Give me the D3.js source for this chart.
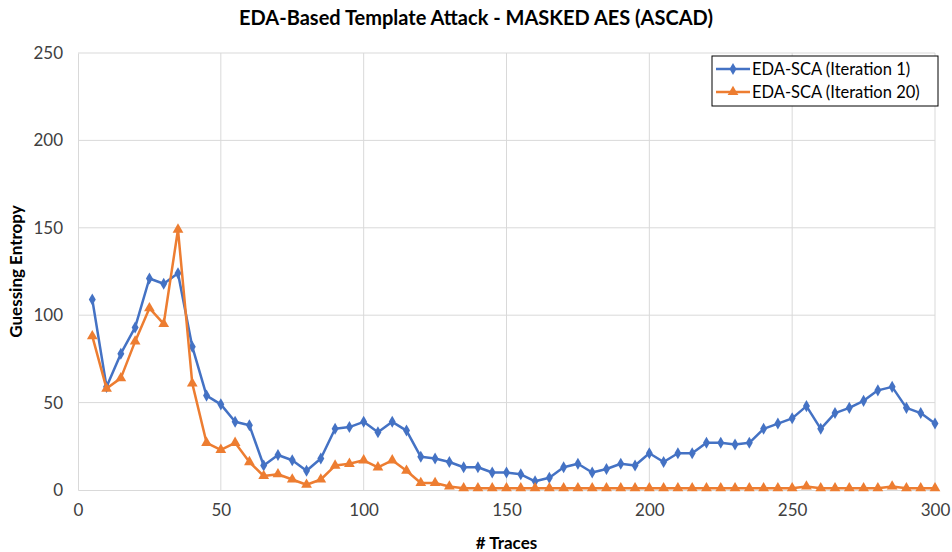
<!DOCTYPE html>
<html>
<head>
<meta charset="utf-8">
<script src="https://cdn.jsdelivr.net/npm/d3@7"></script>
<style>
  body { margin: 0; background: #fff; }
  text { font-family: Lato, "Open Sans", sans-serif; }
</style>
</head>
<body>
<svg id="chart" width="952" height="552"></svg>
<script>
// x values: number of traces
const traces = d3.range(5, 301, 5);

const iter1 = [109, 59, 78, 93, 121, 118, 124, 82, 54, 49,
  39, 37, 14, 20, 17, 11, 18, 35, 36, 39,
  33, 39, 34, 19, 18, 16, 13, 13, 10, 10,
  9, 5, 7, 13, 15, 10, 12, 15, 14, 21,
  16, 21, 21, 27, 27, 26, 27, 35, 38, 41,
  48, 35, 44, 47, 51, 57, 59, 47, 44, 38];

const iter20 = [88, 58, 64, 85, 104, 95, 149, 61, 27, 23,
  27, 16, 8, 9, 6, 3, 6, 14, 15, 17,
  13, 17, 11, 4, 4, 2, 1, 1, 1, 1,
  1, 1, 1, 1, 1, 1, 1, 1, 1, 1,
  1, 1, 1, 1, 1, 1, 1, 1, 1, 1,
  2, 1, 1, 1, 1, 1, 2, 1, 1, 1];

const seriesNames = ['EDA-SCA (Iteration 1)', 'EDA-SCA (Iteration 20)'];
const seriesColors = ['#4472C4', '#ED7D31'];
const xTicks = [0, 50, 100, 150, 200, 250, 300];
const yTicks = [0, 50, 100, 150, 200, 250];

const svg = d3.select('#chart');
const margin = { left: 78, right: 17, top: 53, bottom: 62 };
const W = 952, H = 552;

const x = d3.scaleLinear().domain([0, 300]).range([margin.left, W - margin.right]);
const y = d3.scaleLinear().domain([0, 250]).range([H - margin.bottom, margin.top]);

// gridlines
svg.append('g')
  .selectAll('line.hg')
  .data(yTicks.slice(1))
  .join('line')
  .attr('x1', x(0)).attr('x2', x(300))
  .attr('y1', d => y(d)).attr('y2', d => y(d))
  .attr('stroke', '#d9d9d9').attr('stroke-width', 1);

svg.append('g')
  .selectAll('line.vg')
  .data(xTicks.slice(1))
  .join('line')
  .attr('y1', y(0)).attr('y2', y(250))
  .attr('x1', d => x(d)).attr('x2', d => x(d))
  .attr('stroke', '#d9d9d9').attr('stroke-width', 1);

// axes
const xAxis = svg.append('g')
  .attr('transform', `translate(0,${y(0)})`)
  .call(d3.axisBottom(x).tickValues(xTicks).tickSize(0).tickPadding(14));
const yAxis = svg.append('g')
  .attr('transform', `translate(${x(0)},0)`)
  .call(d3.axisLeft(y).tickValues(yTicks).tickSize(0).tickPadding(15));

[xAxis, yAxis].forEach(a => {
  a.select('.domain').attr('stroke', '#d9d9d9');
  a.selectAll('text')
    .attr('fill', '#404040')
    .style('font-size', '17px')
    .style('font-family', 'Lato, "Open Sans", sans-serif');
});

// lines & markers
const line = d3.line().x((d, i) => x(traces[i])).y(d => y(d));
const data = [iter1, iter20];
const symbols = [d3.symbolDiamond, d3.symbolTriangle];
const sizes = [42, 50];

data.forEach((vals, k) => {
  svg.append('path')
    .datum(vals)
    .attr('fill', 'none')
    .attr('stroke', seriesColors[k])
    .attr('stroke-width', 2.5)
    .attr('stroke-linejoin', 'round')
    .attr('d', line);

  svg.append('g')
    .selectAll('path')
    .data(vals)
    .join('path')
    .attr('transform', (d, i) => `translate(${x(traces[i])},${y(d)})`)
    .attr('d', d3.symbol().type(symbols[k]).size(sizes[k]))
    .attr('fill', seriesColors[k]);
});

// title
svg.append('text')
  .attr('x', 476).attr('y', 25)
  .attr('text-anchor', 'middle')
  .style('font-size', '20px').style('font-weight', 'bold')
  .attr('fill', '#000')
  .text('EDA-Based Template Attack - MASKED AES (ASCAD)');

// axis titles
svg.append('text')
  .attr('x', (x(0) + x(300)) / 2).attr('y', 549)
  .attr('text-anchor', 'middle')
  .style('font-size', '17px').style('font-weight', 'bold')
  .text('# Traces');

svg.append('text')
  .attr('transform', `translate(22,${(y(0) + y(250)) / 2}) rotate(-90)`)
  .attr('text-anchor', 'middle')
  .style('font-size', '17px').style('font-weight', 'bold')
  .text('Guessing Entropy');

// legend
const lg = svg.append('g').attr('transform', 'translate(712,56)');
lg.append('rect')
  .attr('x', 0).attr('y', 0).attr('width', 226).attr('height', 50)
  .attr('fill', '#fff').attr('stroke', '#000').attr('stroke-width', 1);

seriesNames.forEach((name, k) => {
  const yy = 13 + k * 23;
  lg.append('line')
    .attr('x1', 4).attr('x2', 38).attr('y1', yy).attr('y2', yy)
    .attr('stroke', seriesColors[k]).attr('stroke-width', 2.5);
  lg.append('path')
    .attr('transform', `translate(21,${yy})`)
    .attr('d', d3.symbol().type(symbols[k]).size(sizes[k]))
    .attr('fill', seriesColors[k]);
  lg.append('text')
    .attr('x', 40).attr('y', yy + 6)
    .style('font-size', '16.5px')
    .attr('fill', '#000')
    .text(name);
});
</script>
</body>
</html>
